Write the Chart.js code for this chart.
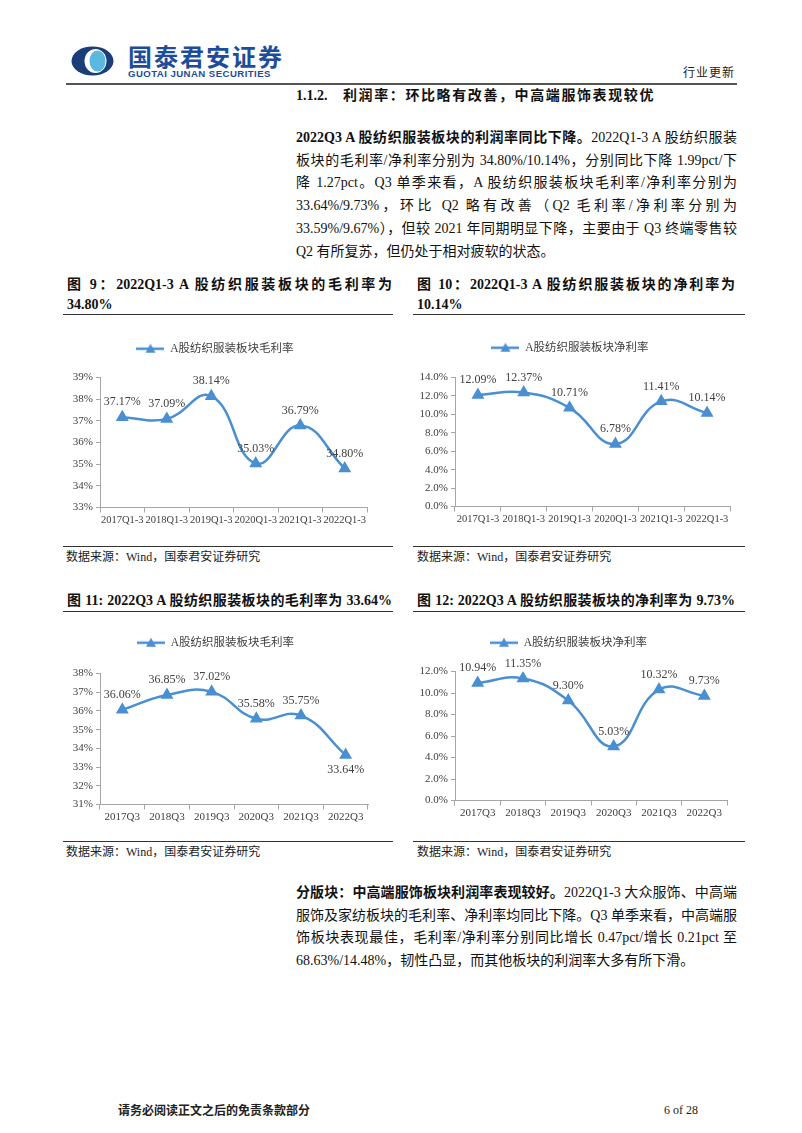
<!DOCTYPE html>
<html>
<head>
<meta charset="utf-8">
<script src="https://cdn.jsdelivr.net/npm/chart.js@4/dist/chart.umd.min.js"></script>
<style>
  html, body { margin: 0; padding: 0; background: #fff; }
  body { width: 802px; height: 1133px; position: relative; overflow: hidden;
         font-family: "Liberation Serif", "Noto Sans CJK SC", serif; color: #111; }
  .abs { position: absolute; }
  .line { position: absolute; height: 0; border-top: 1.5px solid #333; }
  .para { position: absolute; left: 296px; width: 441px; font-size: 14px; line-height: 22.7px; }
  .para div { white-space: nowrap; text-align: justify; text-align-last: justify; }
  .para div.last { text-align-last: left; }
  .figt { position: absolute; font-size: 14px; font-weight: bold; line-height: 20px; }
  .figt div { white-space: nowrap; text-align: justify; text-align-last: justify; }
  .figt div.last { text-align-last: left; }
  .src { position: absolute; font-size: 12px; line-height: 16px; color: #222; }
  .box { position: absolute; }
</style>
</head>
<body>

<!-- header -->
<svg class="abs" style="left:70px;top:46px" width="46" height="31" viewBox="0 0 46 31">
  <ellipse cx="22.5" cy="15" rx="21" ry="14.5" fill="#1b3d78"/>
  <ellipse cx="25.5" cy="15" rx="11" ry="12" fill="#fff"/>
  <ellipse cx="27.5" cy="15" rx="8" ry="10.5" fill="#5bb9df"/>
</svg>
<div class="abs" style="left:128px;top:42px;font-family:'Noto Sans CJK SC';font-weight:bold;font-size:24px;letter-spacing:2px;color:#1d4d9a;line-height:28px">国泰君安证券</div>
<div class="abs" style="left:128px;top:68px;font-family:'Liberation Sans';font-weight:bold;font-size:9.6px;letter-spacing:0.45px;color:#1d4d9a;line-height:11px">GUOTAI JUNAN SECURITIES</div>
<div class="abs" style="left:683px;top:64px;font-family:'Noto Sans CJK SC';font-size:12px;letter-spacing:1px;color:#222;line-height:16px">行业更新</div>
<div class="line" style="left:66px;top:83px;width:671px;border-top:2px solid #555"></div>

<div class="abs" style="left:296px;top:87px;font-size:14px;font-weight:bold;line-height:18px;white-space:nowrap">1.1.2.</div>
<div class="abs" style="left:343px;top:87px;font-size:14px;font-weight:bold;line-height:18px;letter-spacing:1.6px;white-space:nowrap">利润率：环比略有改善，中高端服饰表现较优</div>

<div class="para" style="top:127px">
  <div><b>2022Q3 A 股纺织服装板块的利润率同比下降。</b>2022Q1-3 A 股纺织服装</div>
  <div>板块的毛利率/净利率分别为 34.80%/10.14%，分别同比下降 1.99pct/下</div>
  <div>降 1.27pct。Q3 单季来看，A 股纺织服装板块毛利率/净利率分别为</div>
  <div>33.64%/9.73%，环比 Q2 略有改善（Q2 毛利率/净利率分别为</div>
  <div>33.59%/9.67%），但较 2021 年同期明显下降，主要由于 Q3 终端零售较</div>
  <div class="last">Q2 有所复苏，但仍处于相对疲软的状态。</div>
</div>

<!-- figure titles -->
<div class="figt" style="left:67px;top:275px;width:325px">
  <div>图 9：2022Q1-3 A 股纺织服装板块的毛利率为</div>
  <div class="last">34.80%</div>
</div>
<div class="line" style="left:63px;top:314px;width:330px"></div>
<div class="figt" style="left:417px;top:275px;width:318px">
  <div>图 10：2022Q1-3 A 股纺织服装板块的净利率为</div>
  <div class="last">10.14%</div>
</div>
<div class="line" style="left:413px;top:314px;width:332px"></div>

<div class="box" style="left:63px;top:332.5px;width:332px;height:199.5px"><canvas id="c9"></canvas></div>
<div class="box" style="left:410px;top:331.5px;width:335px;height:199.5px"><canvas id="c10"></canvas></div>

<div class="line" style="left:63px;top:546px;width:330px"></div>
<div class="src" style="left:66px;top:549px">数据来源：Wind，国泰君安证券研究</div>
<div class="line" style="left:413px;top:546px;width:332px"></div>
<div class="src" style="left:417px;top:549px">数据来源：Wind，国泰君安证券研究</div>

<div class="figt" style="left:67px;top:591px;width:325px">
  <div>图 11: 2022Q3 A 股纺织服装板块的毛利率为 33.64%</div>
</div>
<div class="line" style="left:63px;top:611px;width:330px"></div>
<div class="figt" style="left:417px;top:591px;width:318px">
  <div>图 12: 2022Q3 A 股纺织服装板块的净利率为 9.73%</div>
</div>
<div class="line" style="left:413px;top:611px;width:332px"></div>

<div class="box" style="left:63px;top:626.5px;width:332px;height:202.5px"><canvas id="c11"></canvas></div>
<div class="box" style="left:410px;top:626.5px;width:335px;height:198.5px"><canvas id="c12"></canvas></div>

<div class="line" style="left:63px;top:841px;width:330px"></div>
<div class="src" style="left:66px;top:844px">数据来源：Wind，国泰君安证券研究</div>
<div class="line" style="left:413px;top:841px;width:332px"></div>
<div class="src" style="left:417px;top:844px">数据来源：Wind，国泰君安证券研究</div>

<div class="para" style="top:882px">
  <div><b>分版块：中高端服饰板块利润率表现较好。</b>2022Q1-3 大众服饰、中高端</div>
  <div>服饰及家纺板块的毛利率、净利率均同比下降。Q3 单季来看，中高端服</div>
  <div>饰板块表现最佳，毛利率/净利率分别同比增长 0.47pct/增长 0.21pct 至</div>
  <div class="last">68.63%/14.48%，韧性凸显，而其他板块的利润率大多有所下滑。</div>
</div>

<!-- footer -->
<div class="abs" style="left:118px;top:1102px;font-family:'Noto Sans CJK SC';font-weight:bold;font-size:12px;line-height:16px;color:#222">请务必阅读正文之后的免责条款部分</div>
<div class="abs" style="left:664px;top:1102px;font-size:12px;line-height:16px;color:#222">6 of 28</div>

<script>
// categories
const ytdLabels = ['2017Q1-3', '2018Q1-3', '2019Q1-3', '2020Q1-3', '2021Q1-3', '2022Q1-3'];
const q3Labels = ['2017Q3', '2018Q3', '2019Q3', '2020Q3', '2021Q3', '2022Q3'];

// series values (%)
const ytdGross = [37.17, 37.09, 38.14, 35.03, 36.79, 34.80];
const ytdNet = [12.09, 12.37, 10.71, 6.78, 11.41, 10.14];
const q3Gross = [36.06, 36.85, 37.02, 35.58, 35.75, 33.64];
const q3Net = [10.94, 11.35, 9.30, 5.03, 10.32, 9.73];

// series names
const grossName = 'A股纺织服装板块毛利率';
const netName = 'A股纺织服装板块净利率';

const blue = '#4a8fd2';
const axisGrey = '#a6a6a6';
const txt = '#404040';

Chart.defaults.font.family = "'Liberation Serif', 'Noto Sans CJK SC', serif";
Chart.defaults.color = txt;

// legend marker: line with triangle
const legendMark = document.createElement('canvas');
legendMark.width = 28;
legendMark.height = 12;
(function () {
  const g = legendMark.getContext('2d');
  g.strokeStyle = blue;
  g.lineWidth = 2.5;
  g.beginPath(); g.moveTo(0, 6); g.lineTo(28, 6); g.stroke();
  g.fillStyle = blue;
  g.beginPath(); g.moveTo(14, 1); g.lineTo(19, 10); g.lineTo(9, 10); g.closePath(); g.fill();
})();

// value labels next to each point
const pointLabels = {
  id: 'pointLabels',
  afterDatasetsDraw(chart, args, opts) {
    const ctx = chart.ctx;
    const meta = chart.getDatasetMeta(0);
    const vals = chart.data.datasets[0].data;
    const below = opts.below || [];
    ctx.save();
    ctx.font = "12px 'Liberation Serif'";
    ctx.fillStyle = txt;
    ctx.textAlign = 'center';
    ctx.textBaseline = 'middle';
    meta.data.forEach((pt, i) => {
      const dy = below.includes(i) ? 15 : -15;
      ctx.fillText(vals[i].toFixed(2) + '%', pt.x, pt.y + dy);
    });
    ctx.restore();
  }
};

function makeChart(id, labels, values, name, cfg) {
  return new Chart(document.getElementById(id), {
    type: 'line',
    data: {
      labels: labels,
      datasets: [{
        label: name,
        data: values,
        borderColor: blue,
        backgroundColor: blue,
        borderWidth: 2.5,
        tension: 0.45,
        pointStyle: 'triangle',
        pointRadius: 5,
        pointBackgroundColor: blue,
        pointBorderColor: blue
      }]
    },
    options: {
      responsive: true,
      maintainAspectRatio: false,
      animation: false,
      layout: { padding: { top: 0, bottom: 0, left: 0, right: cfg.padRight } },
      plugins: {
        legend: {
          position: 'top',
          labels: {
            usePointStyle: true,
            pointStyle: legendMark,
            pointStyleWidth: 28,
            padding: 10,
            color: txt,
            font: { size: 11.5 }
          }
        },
        title: {
          display: true,
          text: '',
          weight: 500,
          font: { size: 10, lineHeight: 1 },
          padding: { top: cfg.gap - 10.5, bottom: 0 }
        },
        tooltip: { enabled: false },
        pointLabels: { below: cfg.below || [] }
      },
      scales: {
        x: {
          offset: true,
          border: { color: axisGrey },
          grid: { offset: true, drawOnChartArea: false, tickLength: 5, color: axisGrey },
          ticks: { padding: 1, maxRotation: 0, autoSkip: false, color: txt, font: { size: cfg.xFont } },
          afterFit(s) { s.height = 25; }
        },
        y: {
          min: cfg.min,
          max: cfg.max,
          border: { color: axisGrey },
          grid: { drawOnChartArea: false, tickLength: 4, color: axisGrey },
          ticks: { stepSize: cfg.step, padding: 3, color: txt, font: { size: 11 }, callback: cfg.fmt },
          afterFit(s) { s.width = cfg.yWidth; }
        }
      }
    },
    plugins: [pointLabels]
  });
}

const pctInt = v => v + '%';
const pctOne = v => v.toFixed(1) + '%';

makeChart('c9', ytdLabels, ytdGross, grossName,
  { min: 33, max: 39, step: 1, fmt: pctInt, yWidth: 37, padRight: 28, gap: 13.5, xFont: 10.5 });
makeChart('c10', ytdLabels, ytdNet, netName,
  { min: 0, max: 14, step: 2, fmt: pctOne, yWidth: 45, padRight: 15, gap: 14.5, xFont: 10.5 });
makeChart('c11', q3Labels, q3Gross, grossName,
  { min: 31, max: 38, step: 1, fmt: pctInt, yWidth: 37, padRight: 27, gap: 15.5, below: [5], xFont: 11 });
makeChart('c12', q3Labels, q3Net, netName,
  { min: 0, max: 12, step: 2, fmt: pctOne, yWidth: 45, padRight: 18, gap: 13.5, xFont: 11 });
</script>
</body>
</html>
